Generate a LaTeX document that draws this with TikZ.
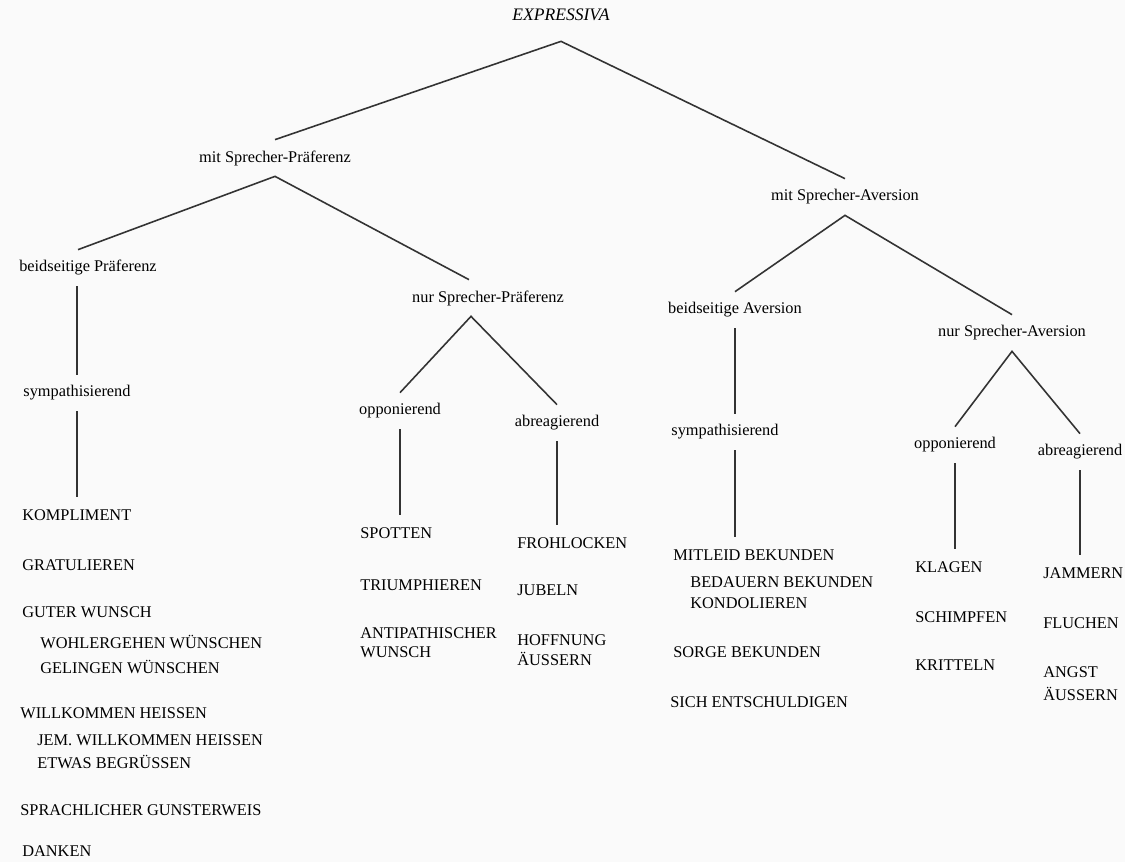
\documentclass[tikz,border=0pt]{standalone}
\usepackage{fontspec}
\setmainfont{Liberation Serif}
\begin{document}
\begin{tikzpicture}[
        x                 = 0.02cm,
        y                 = -0.02cm,
        every node/.style = {font=\fontsize{9.3}{11}\selectfont, text=black},
        lbl/.style        = {minimum height=0.72cm, inner sep=0pt},
        item/.style       = {anchor=west, minimum height=0.72cm, inner sep=0pt, align=left},
        branch/.style     = {draw=black!80, line width=0.9pt},
      ]
    \useasboundingbox[fill=black!2] (0,0) rectangle (1125,862);

    % tree labels
    \node[lbl, font=\fontsize{10}{12}\selectfont\itshape] (expr) at (561,15) {EXPRESSIVA};
    \node[lbl] (msp)  at (275,158)  {mit Sprecher-Präferenz};
    \node[lbl] (msa)  at (845,197)  {mit Sprecher-Aversion};
    \node[lbl] (bp)   at (88,268)   {beidseitige Präferenz};
    \node[lbl] (nsp)  at (488,298)  {nur Sprecher-Präferenz};
    \node[lbl] (ba)   at (735,310)  {beidseitige Aversion};
    \node[lbl] (nsa)  at (1012,333) {nur Sprecher-Aversion};
    \node[lbl] (sym1) at (77,393)   {sympathisierend};
    \node[lbl] (opp1) at (400,411)  {opponierend};
    \node[lbl] (abr1) at (557,423)  {abreagierend};
    \node[lbl] (sym2) at (725,432)  {sympathisierend};
    \node[lbl] (opp2) at (955,445)  {opponierend};
    \node[lbl] (abr2) at (1080,452) {abreagierend};

    % lists
    \node[item] (kompl)  at (22,515) {KOMPLIMENT};
    \node[item] (grat)   at (22,565) {GRATULIEREN};
    \node[item] (guter)  at (22,612) {GUTER WUNSCH};
    \node[item] (wohl)   at (40,642) {WOHLERGEHEN WÜNSCHEN};
    \node[item] (gel)    at (40,667) {GELINGEN WÜNSCHEN};
    \node[item] (willk)  at (20,713) {WILLKOMMEN HEISSEN};
    \node[item] (jem)    at (37,740) {JEM. WILLKOMMEN HEISSEN};
    \node[item] (etwas)  at (37,762) {ETWAS BEGRÜSSEN};
    \node[item] (sprach) at (20,810) {SPRACHLICHER GUNSTERWEIS};
    \node[item] (danken) at (22,851) {DANKEN};

    \node[item] (spotten) at (360,533) {SPOTTEN};
    \node[item] (trium)   at (360,585) {TRIUMPHIEREN};
    \node[item] (anti)    at (360,643) {ANTIPATHISCHER\\WUNSCH};

    \node[item] (froh)   at (517,543) {FROHLOCKEN};
    \node[item] (jubeln) at (517,590) {JUBELN};
    \node[item] (hoff)   at (517,650) {HOFFNUNG\\ÄUSSERN};

    \node[item] (mitleid)  at (673,555) {MITLEID BEKUNDEN};
    \node[item] (bedauern) at (690,582) {BEDAUERN BEKUNDEN};
    \node[item] (kondol)   at (690,603) {KONDOLIEREN};
    \node[item] (sorge)    at (673,652) {SORGE BEKUNDEN};
    \node[item] (sich)     at (670,702) {SICH ENTSCHULDIGEN};

    \node[item] (klagen)    at (915,567) {KLAGEN};
    \node[item] (schimpfen) at (915,617) {SCHIMPFEN};
    \node[item] (kritteln)  at (915,665) {KRITTELN};

    \node[item] (jammern) at (1043,573) {JAMMERN};
    \node[item] (fluchen) at (1043,623) {FLUCHEN};
    \node[item] (angst)   at (1043,684) {ANGST\\[2pt]ÄUSSERN};

    % branches
    \draw[branch] (msp.north) -- ([yshift=-0.16cm]expr.south) -- (msa.north);
    \draw[branch] ([xshift=-0.2cm]bp.north) -- (msp.south) -- ([xshift=-0.38cm]nsp.north);
    \draw[branch] (ba.north) -- (msa.south) -- (nsa.north);
    \draw[branch] (opp1.north) -- ([xshift=-0.34cm]nsp.south) -- (abr1.north);
    \draw[branch] (opp2.north) -- (nsa.south) -- (abr2.north);

    % stems
    \draw[branch] (bp.south -| sym1) -- (sym1.north);
    \draw[branch] (sym1.south) -- (sym1 |- kompl.north);
    \draw[branch] (opp1.south) -- (opp1 |- spotten.north);
    \draw[branch] (abr1.south) -- (abr1 |- froh.north);
    \draw[branch] (ba.south) -- (ba |- sym2.north);
    \draw[branch] (sym2.south -| ba) -- (ba |- mitleid.north);
    \draw[branch] (opp2.south) -- (opp2 |- klagen.north);
    \draw[branch] (abr2.south) -- (abr2 |- jammern.north);
\end{tikzpicture}
\end{document}
